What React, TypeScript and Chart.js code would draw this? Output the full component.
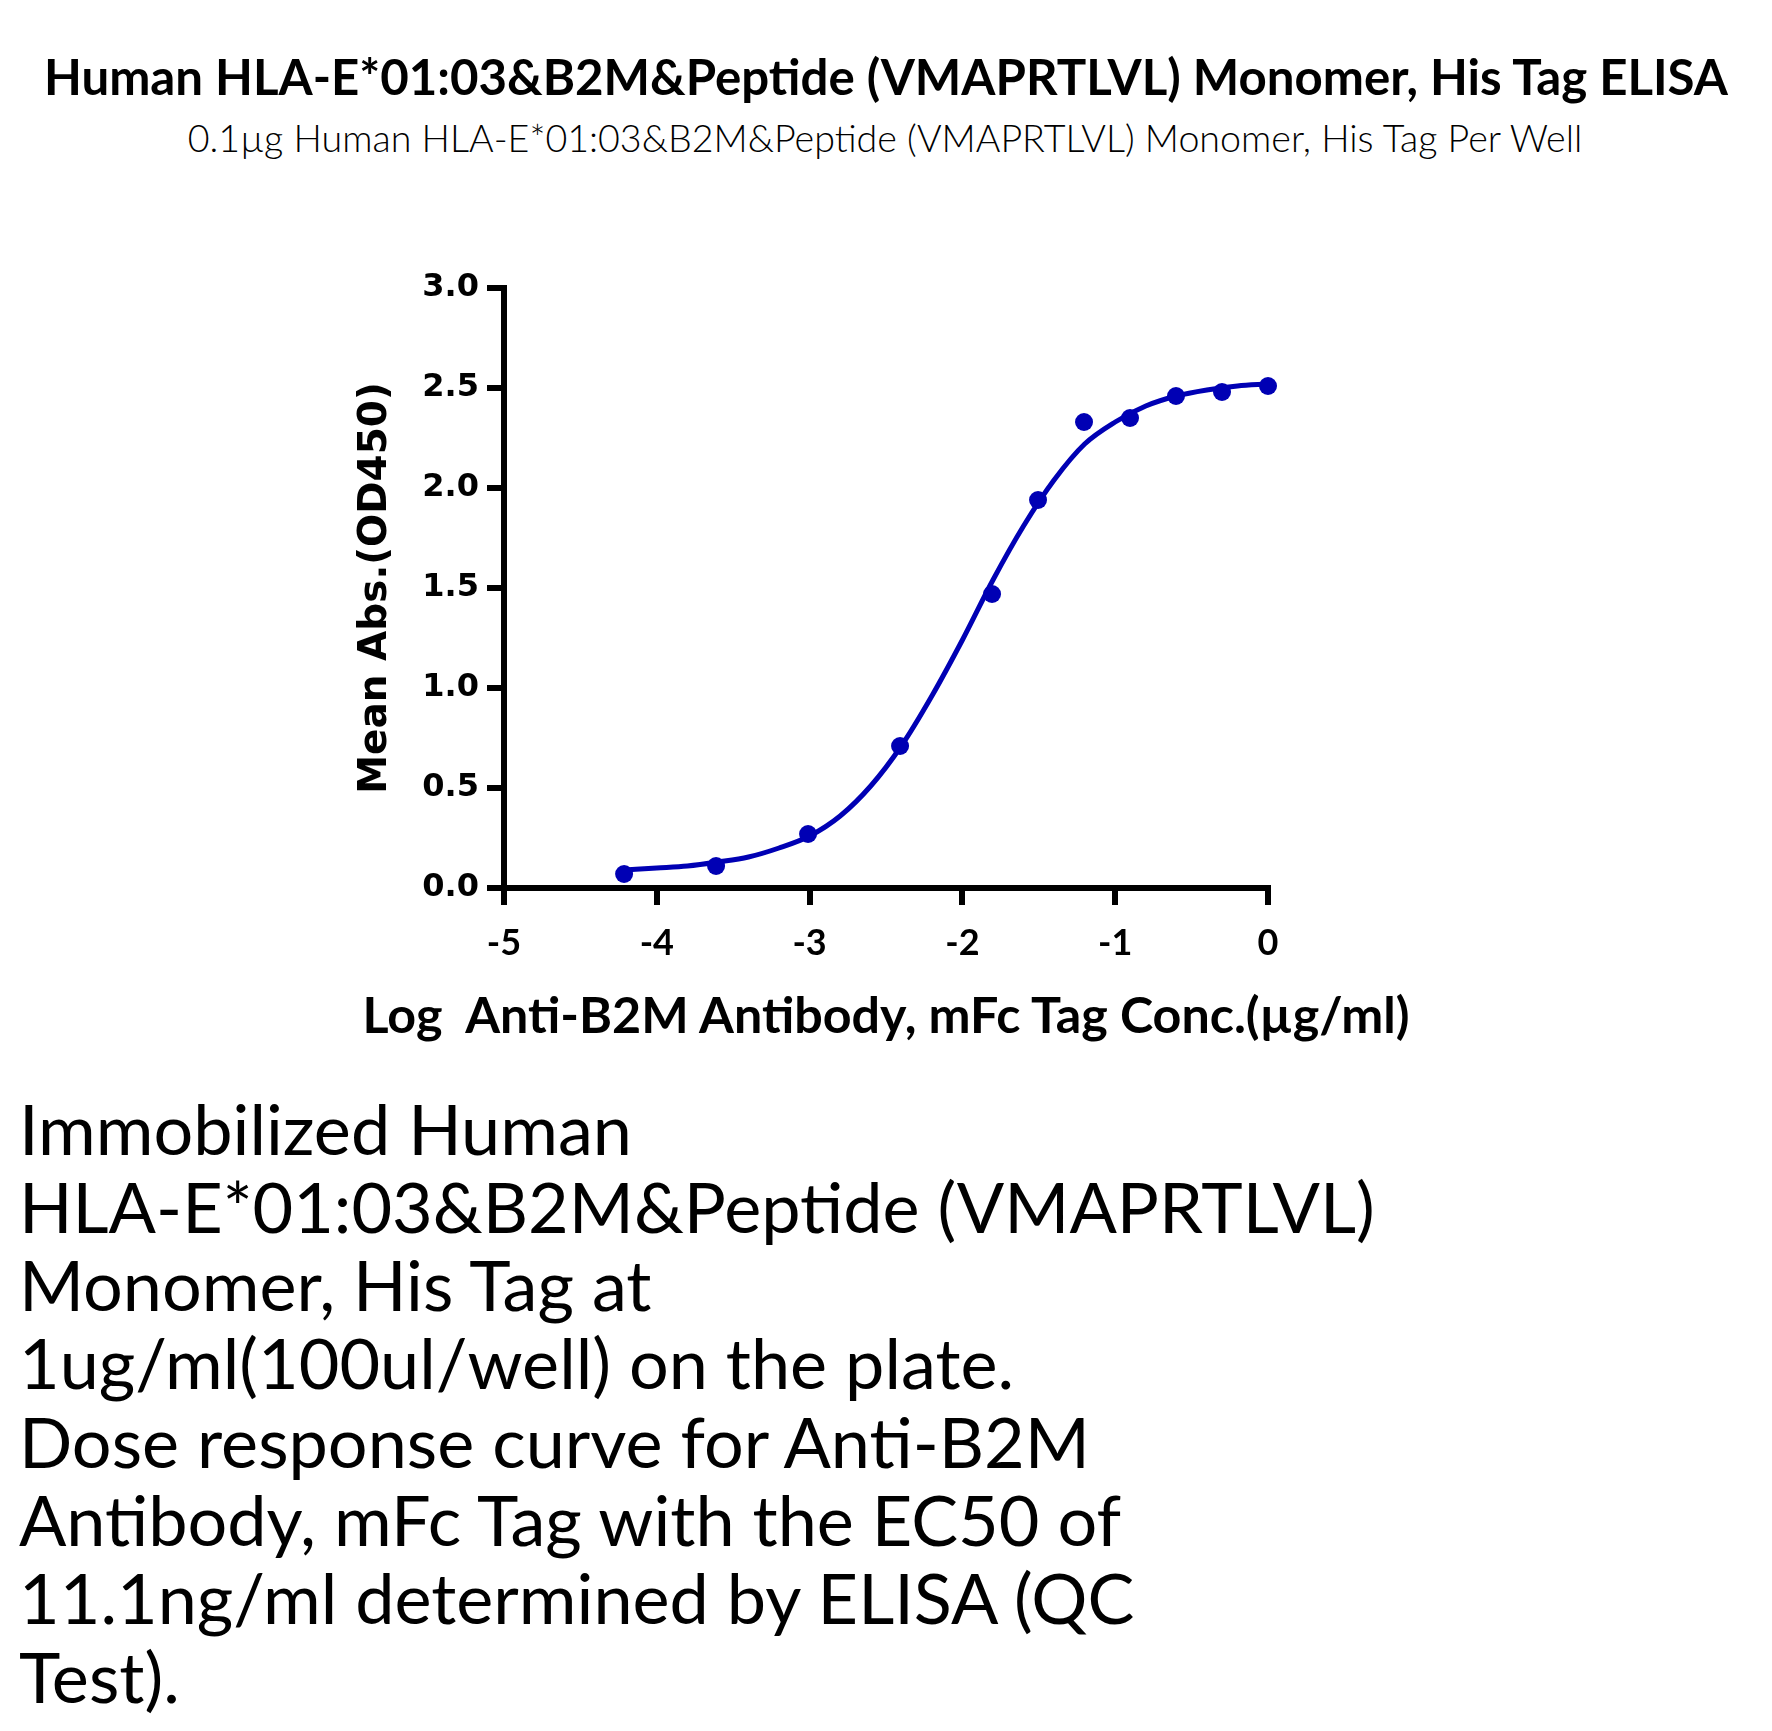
import React, { useEffect, useRef } from 'react';
import { Chart, registerables } from 'chart.js';

Chart.register(...registerables);

// ---------- texts ----------
const TITLE = 'Human HLA-E*01:03&B2M&Peptide (VMAPRTLVL) Monomer, His Tag ELISA';
const SUBTITLE = '0.1µg Human HLA-E*01:03&B2M&Peptide (VMAPRTLVL) Monomer, His Tag Per Well';
const X_TITLE = 'Log  Anti-B2M Antibody, mFc Tag Conc.(µg/ml)';
const Y_TITLE = 'Mean Abs.(OD450)';
const CAPTION_LINES = [
  'Immobilized Human',
  'HLA-E*01:03&B2M&Peptide (VMAPRTLVL)',
  'Monomer, His Tag at',
  '1ug/ml(100ul/well) on the plate.',
  'Dose response curve for Anti-B2M',
  'Antibody, mFc Tag with the EC50 of',
  '11.1ng/ml determined by ELISA (QC',
  'Test).',
];

// ---------- data ----------
const logConc = [-4.214, -3.612, -3.01, -2.408, -1.806, -1.505, -1.204, -0.903, -0.602, -0.301, 0];
const meanAbs = [0.07, 0.11, 0.27, 0.71, 1.47, 1.94, 2.33, 2.35, 2.46, 2.48, 2.51];

const fitLogConc = [-4.21, -4.0, -3.8, -3.6, -3.4, -3.2, -3.0, -2.8, -2.6, -2.4, -2.2, -2.0, -1.8, -1.6, -1.4, -1.2, -1.0, -0.8, -0.6, -0.4, -0.2, 0];
const fitAbs = [0.09, 0.1, 0.11, 0.13, 0.155, 0.2, 0.26, 0.36, 0.51, 0.71, 0.96, 1.24, 1.54, 1.81, 2.04, 2.22, 2.33, 2.41, 2.46, 2.49, 2.51, 2.52];

const xTicks = [-5, -4, -3, -2, -1, 0];
const yTicks = [0, 0.5, 1.0, 1.5, 2.0, 2.5, 3.0];

// ---------- style / layout ----------
const BLUE = '#0000B4';
const CANVAS_W = 1772;
const CANVAS_H = 1000;
const AREA = { left: 504, top: 288, right: 1268, bottom: 888 };
const PAD_LEFT = 340;

let measureCtx: CanvasRenderingContext2D | null = null;
function fitFont(text: string, weight: string | number, family: string, targetWidth: number) {
  if (!measureCtx) measureCtx = document.createElement('canvas').getContext('2d');
  const ctx = measureCtx!;
  ctx.font = `${weight} 100px ${family}`;
  const m = ctx.measureText(text);
  const size = (100 * targetWidth) / m.width;
  const asc = ((m as any).fontBoundingBoxAscent ?? 99) * size / 100;
  const desc = ((m as any).fontBoundingBoxDescent ?? 21) * size / 100;
  return { size, asc, desc };
}

function TextLine(props: {
  text: string; weight: string | number; family: string; width: number;
  baseline: number; left?: number; center?: number; sizeOverride?: { size: number; asc: number; desc: number };
}) {
  const f = props.sizeOverride ?? fitFont(props.text, props.weight, props.family, props.width);
  const style: React.CSSProperties = {
    position: 'absolute',
    top: props.baseline - f.asc,
    font: `${props.weight} ${f.size}px ${props.family}`,
    lineHeight: `${f.asc + f.desc}px`,
    whiteSpace: 'pre',
    color: '#000',
    margin: 0,
  };
  if (props.center !== undefined) {
    style.left = props.center - 1000;
    style.width = 2000;
    style.textAlign = 'center';
  } else {
    style.left = props.left ?? 0;
  }
  return <div style={style}>{props.text}</div>;
}

export default function App() {
  const ref = useRef<HTMLCanvasElement | null>(null);

  useEffect(() => {
    const canvas = ref.current;
    if (!canvas) return;

    const chart = new Chart(canvas, {
      type: 'scatter',
      data: {
        datasets: [
          {
            label: 'data',
            data: logConc.map((x, i) => ({ x, y: meanAbs[i] })),
            pointRadius: 9,
            pointHoverRadius: 9,
            pointBackgroundColor: BLUE,
            pointBorderColor: BLUE,
            pointBorderWidth: 0,
            showLine: false,
            order: 0,
            clip: false as any,
          },
          {
            label: 'fit',
            data: fitLogConc.map((x, i) => ({ x, y: fitAbs[i] })),
            showLine: true,
            pointRadius: 0,
            pointHoverRadius: 0,
            borderColor: BLUE,
            borderWidth: 5,
            cubicInterpolationMode: 'monotone',
            fill: false,
            order: 1,
            clip: false as any,
          },
        ],
      },
      options: {
        responsive: false,
        animation: false,
        events: [],
        layout: {
          padding: { left: PAD_LEFT, right: CANVAS_W - AREA.right, top: AREA.top, bottom: 0 },
        },
        plugins: {
          legend: { display: false },
          tooltip: { enabled: false },
          title: { display: false },
        },
        scales: {
          x: {
            type: 'linear',
            position: 'bottom',
            min: xTicks[0],
            max: xTicks[xTicks.length - 1],
            afterBuildTicks: (s: any) => {
              s.ticks = xTicks.map((value) => ({ value }));
            },
            afterFit: (s: any) => {
              s.height = CANVAS_H - AREA.bottom;
            },
            grid: {
              display: true,
              drawOnChartArea: false,
              drawTicks: true,
              tickLength: 17,
              tickWidth: 6,
              tickColor: '#000',
              lineWidth: 6,
              color: '#000',
            },
            border: { display: true, width: 6, color: '#000' },
            ticks: {
              color: '#000',
              padding: 17,
              font: { family: 'Lato', weight: 'bold', size: 36 },
              callback: (v: any) => String(v),
              maxRotation: 0,
              autoSkip: false,
            },
            title: { display: false },
          },
          y: {
            type: 'linear',
            position: 'left',
            min: yTicks[0],
            max: yTicks[yTicks.length - 1],
            afterBuildTicks: (s: any) => {
              s.ticks = yTicks.map((value) => ({ value }));
            },
            afterFit: (s: any) => {
              s.width = AREA.left - PAD_LEFT;
            },
            grid: {
              display: true,
              drawOnChartArea: false,
              drawTicks: true,
              tickLength: 17,
              tickWidth: 6,
              tickColor: '#000',
              lineWidth: 6,
              color: '#000',
            },
            border: { display: true, width: 6, color: '#000' },
            ticks: {
              color: '#000',
              padding: 8,
              font: { family: 'DejaVu Sans', weight: 'bold', size: 32 },
              callback: (v: any) => Number(v).toFixed(1),
              autoSkip: false,
            },
            title: {
              display: true,
              text: Y_TITLE,
              color: '#000',
              font: { family: 'DejaVu Sans', weight: 'bold', size: 39 },
              padding: { top: 12.6, bottom: 0 },
            },
          },
        },
      } as any,
    });
    return () => chart.destroy();
  }, []);

  const caption = fitFont(CAPTION_LINES[1], 'normal', 'Lato', 1356);

  return (
    <div style={{ position: 'absolute', left: 0, top: 0, width: CANVAS_W, height: 1731, background: '#fff', overflow: 'hidden' }}>
      <TextLine text={TITLE} weight="bold" family="Lato" width={1686} baseline={95} center={886} />
      <TextLine text={SUBTITLE} weight={300} family="Lato" width={1398} baseline={152} center={885} />
      <canvas ref={ref} width={CANVAS_W} height={CANVAS_H} style={{ position: 'absolute', left: 0, top: 0, width: CANVAS_W, height: CANVAS_H }} />
      <TextLine text={X_TITLE} weight="bold" family="Lato" width={1052} baseline={1034} center={886} />
      {CAPTION_LINES.map((t, i) => (
        <TextLine key={i} text={t} weight="normal" family="Lato" width={1356} baseline={1155 + 78.3 * i} left={19} sizeOverride={caption} />
      ))}
    </div>
  );
}
